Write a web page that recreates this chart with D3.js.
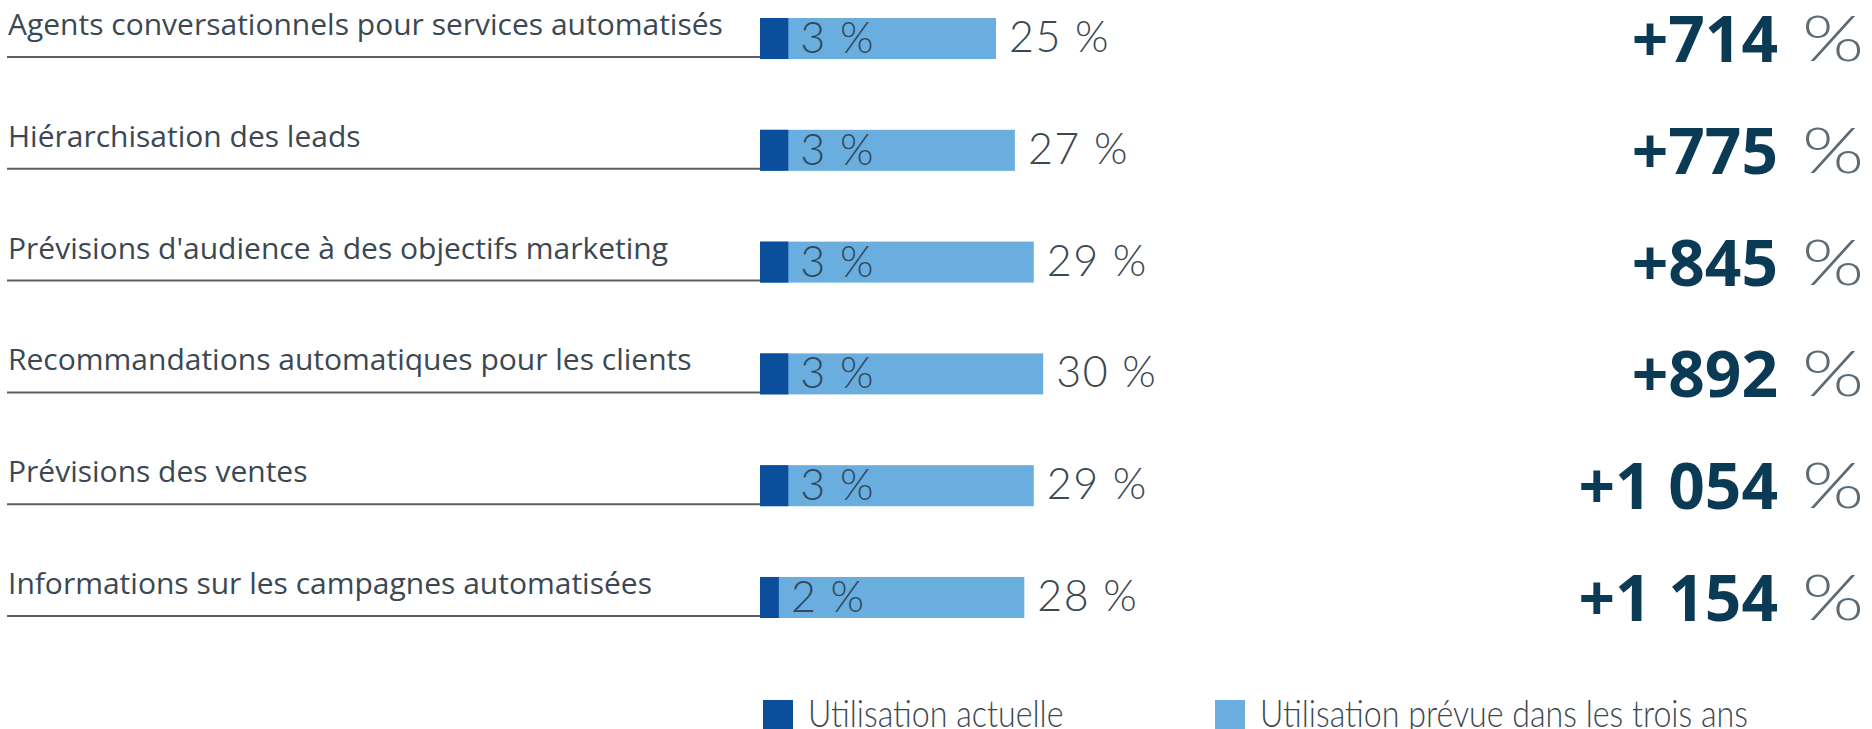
<!DOCTYPE html>
<html>
<head>
<meta charset="utf-8">
<script src="https://cdn.jsdelivr.net/npm/d3@7"></script>
<style>
  html, body { margin: 0; padding: 0; background: #fff; overflow: hidden; }
  svg { display: block; }
</style>
</head>
<body>
<div id="chart"></div>
<script>
var categories = [
    "Agents conversationnels pour services automatisés",
    "Hiérarchisation des leads",
    "Prévisions d'audience à des objectifs marketing",
    "Recommandations automatiques pour les clients",
    "Prévisions des ventes",
    "Informations sur les campagnes automatisées"
];
var current = [3, 3, 3, 3, 3, 2];
var planned = [25, 27, 29, 30, 29, 28];
var growth = ["+714", "+775", "+845", "+892", "+1 054", "+1 154"];
var legendLabels = ["Utilisation actuelle", "Utilisation prévue dans les trois ans"];

var width = 1872, height = 729;
var darkBlue = "#0b4f9c", lightBlue = "#6aaee0";
var textCol = "#3b4852", numCol = "#0b3a55";
var lightFont = "Lato, 'Open Sans', sans-serif";

var svg = d3.select("#chart").append("svg")
    .attr("width", width)
    .attr("height", height);

var rows = categories.map(function(c, i) {
    return {cat: c, cur: current[i], plan: planned[i], grow: growth[i]};
});

// scales
var x = d3.scaleLinear().domain([0, 30]).range([760, 760 + 283.2]);
var y = d3.scaleBand().domain(categories).range([18, 618]).paddingInner(0.633).paddingOuter(0);

var row = svg.selectAll("g.row").data(rows).enter().append("g")
    .attr("class", "row")
    .attr("transform", function(d) { return "translate(0," + y(d.cat) + ")"; });

// underline of category label
row.append("line")
    .attr("x1", 7).attr("x2", x(0))
    .attr("y1", y.bandwidth() - 2).attr("y2", y.bandwidth() - 2)
    .attr("stroke", "#5a5f63").attr("stroke-width", 2);

row.append("text")
    .attr("x", 8).attr("y", 17)
    .attr("font-family", "'Open Sans', sans-serif")
    .attr("font-size", 30)
    .attr("fill", textCol)
    .text(function(d) { return d.cat; });

row.append("rect")
    .attr("x", x(0)).attr("y", 0)
    .attr("width", function(d) { return x(d.plan) - x(0); })
    .attr("height", y.bandwidth())
    .attr("fill", lightBlue);

row.append("rect")
    .attr("x", x(0)).attr("y", 0)
    .attr("width", function(d) { return x(d.cur) - x(0); })
    .attr("height", y.bandwidth())
    .attr("fill", darkBlue);

row.append("text")
    .attr("x", function(d) { return x(d.cur) + 12; })
    .attr("y", 35)
    .attr("font-family", lightFont)
    .attr("font-weight", 300)
    .attr("font-size", 43)
    .attr("letter-spacing", 1.5)
    .attr("fill", "#2f4a5c")
    .text(function(d) { return d.cur + " %"; });

row.append("text")
    .attr("x", function(d) { return x(d.plan) + 13; })
    .attr("y", 34)
    .attr("font-family", lightFont)
    .attr("font-weight", 300)
    .attr("font-size", 43)
    .attr("letter-spacing", 1.5)
    .attr("fill", "#3b4852")
    .text(function(d) { return d.plan + " %"; });

// growth numbers on the right
row.append("text")
    .attr("x", 1778).attr("y", 44)
    .attr("text-anchor", "end")
    .attr("font-family", "'Open Sans', sans-serif")
    .attr("font-weight", 700)
    .attr("font-size", 64)
    .attr("fill", numCol)
    .text(function(d) { return d.grow; });
row.append("text")
    .attr("x", 1802).attr("y", 43)
    .attr("font-family", lightFont)
    .attr("font-weight", 300)
    .attr("font-size", 64)
    .attr("textLength", 62)
    .attr("lengthAdjust", "spacingAndGlyphs")
    .attr("fill", "#5d6b74")
    .text("%");

// legend
var legX = [763, 1215];
var leg = svg.selectAll("g.leg").data(legendLabels).enter().append("g")
    .attr("class", "leg")
    .attr("transform", function(d, i) { return "translate(" + legX[i] + ",700)"; });
leg.append("rect")
    .attr("width", 30).attr("height", 34)
    .attr("fill", function(d, i) { return i == 0 ? darkBlue : lightBlue; });
leg.append("text")
    .attr("transform", "translate(45,27) scale(0.87,1)")
    .attr("font-family", lightFont)
    .attr("font-weight", 300)
    .attr("font-size", 37)
    .attr("fill", textCol)
    .text(function(d) { return d; });
</script>
</body>
</html>
